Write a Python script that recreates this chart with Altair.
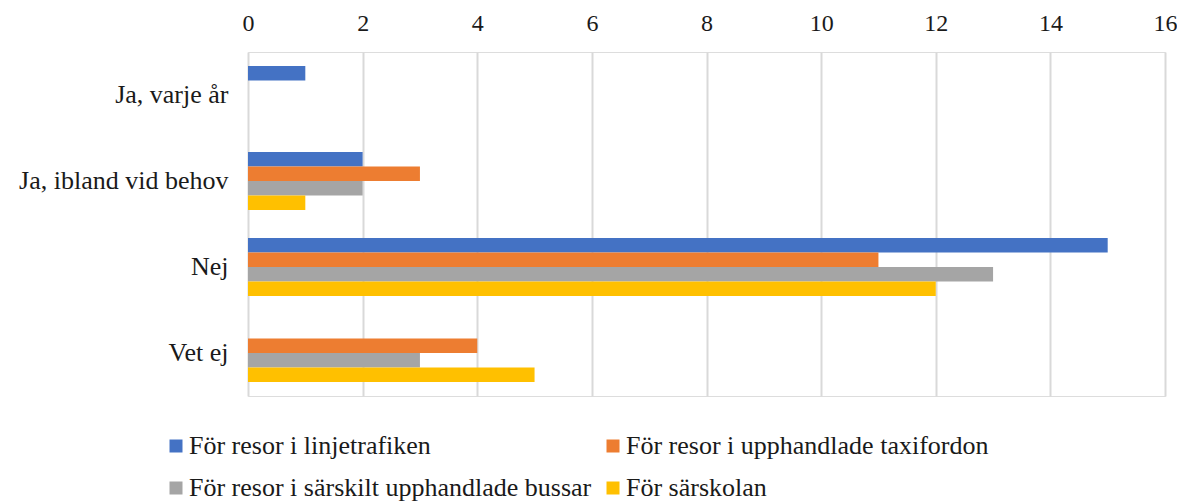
import altair as alt
import pandas as pd

categories = ["Ja, varje år", "Ja, ibland vid behov", "Nej", "Vet ej"]
series = [
    "För resor i linjetrafiken",
    "För resor i upphandlade taxifordon",
    "För resor i särskilt upphandlade bussar",
    "För särskolan",
]
colors = ["#4472C4", "#ED7D31", "#A5A5A5", "#FFC000"]
linjetrafiken = [1, 2, 15, 0]
taxifordon = [0, 3, 11, 4]
bussar = [0, 2, 13, 3]
sarskolan = [0, 1, 12, 5]
x_ticks = [0, 2, 4, 6, 8, 10, 12, 14, 16]

rows = []
for s, vals in zip(series, [linjetrafiken, taxifordon, bussar, sarskolan]):
    for c, v in zip(categories, vals):
        rows.append({"kategori": c, "serie": s, "antal": v})
df = pd.DataFrame(rows)

FONT = "Liberation Serif"
TXT = "#1a1a1a"

chart = (
    alt.Chart(df)
    .transform_filter("datum.antal > 0")
    .mark_bar(size=14.5)
    .encode(
        x=alt.X(
            "antal:Q",
            scale=alt.Scale(domain=[0, 16], nice=False),
            axis=alt.Axis(
                orient="top",
                values=x_ticks,
                title=None,
                ticks=False,
                domain=False,
                labelFlush=False,
                labelPadding=17,
                labelFontSize=24,
                labelFont=FONT,
                labelColor=TXT,
                gridColor="#d9d9d9",
                gridWidth=2,
            ),
        ),
        y=alt.Y(
            "kategori:N",
            sort=categories,
            scale=alt.Scale(domain=categories, paddingInner=0.326, paddingOuter=0.163),
            axis=alt.Axis(
                title=None,
                ticks=False,
                domain=False,
                labelPadding=20,
                labelFontSize=26,
                labelFont=FONT,
                labelColor=TXT,
                labelLimit=400,
            ),
        ),
        yOffset=alt.YOffset("serie:N", sort=series, scale=alt.Scale(domain=series)),
        color=alt.Color(
            "serie:N",
            sort=series,
            scale=alt.Scale(domain=series, range=colors),
            legend=alt.Legend(
                title=None,
                orient="none",
                direction="horizontal",
                legendX=-85,
                legendY=381,
                columns=2,
                columnPadding=8,
                rowPadding=16,
                symbolType="square",
                symbolSize=169,
                symbolStrokeWidth=0,
                symbolOffset=0,
                labelOffset=0,
                labelFontSize=26,
                labelFont=FONT,
                labelColor=TXT,
                labelLimit=600,
            ),
        ),
    )
    .properties(
        width=917,
        height=344,
        autosize=alt.AutoSizeParams(type="none"),
        padding={"left": 248, "top": 52, "right": 12, "bottom": 105},
    )
    .configure_view(stroke=None)
    .configure(background="white", font=FONT)
)

chart.save("out.html", embed_options={"renderer": "svg", "actions": False})
